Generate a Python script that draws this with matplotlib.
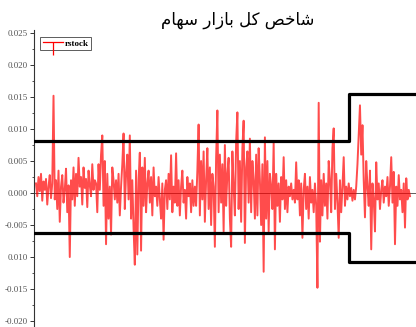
import numpy as np
import matplotlib.pyplot as plt
from matplotlib.lines import Line2D
from matplotlib.ticker import MultipleLocator

# daily returns of the index, in thousandths left to right
rstock_milli = [
    1.5, -0.5, 2.5, 0.3, 3.0, -1.2, 1.8, 0.5, 2.2, -1.8, 1.0, 2.8, -0.8, 1.5, 15.2, -1.0,
    2.0, -2.5, 3.5, -4.5, 1.0, 2.8, -1.5, 0.5, 3.8, -3.0, 1.2, -10.0, 2.0, -1.0, 4.0, -2.0,
    3.0, -0.5, 5.5, 1.0, 2.5, -1.8, 4.0, 0.8, 2.2, -2.2, 3.5, 1.2, -0.5, 4.5, 0.5, 2.0,
    1.5, -3.0, 4.5, 0.5, 6.0, 9.0, -2.0, 5.0, -8.0, 3.0, -4.0, 1.0, -6.5, 4.0, 2.0, -1.0,
    2.0, -1.5, 3.0, -3.5, 1.0, 4.5, 9.3, -2.5, 3.0, 6.0, -1.0, 9.0, -4.0, 2.0, -5.5, -11.2,
    3.5, -9.6, 2.0, 6.3, -9.0, 4.0, -2.0, 5.5, -3.0, 1.5, 3.5, -1.5, 2.5, -3.5, 4.0, -0.5,
    1.0, -2.0, 2.5, -1.0, -4.0, 1.5, -7.3, 0.5, 2.0, -2.5, 3.0, -1.0, 5.9, -3.0, 1.0, -1.5,
    6.2, -2.0, 2.0, -3.5, 1.0, 3.5, -1.5, 0.5, -4.0, 2.5, -0.5, 1.5, -3.0, 2.0, -2.0, 1.0,
    -2.0, 3.5, 10.7, -3.5, 5.0, -1.0, 6.5, -4.5, 2.0, 7.0, -2.5, 4.0, -5.0, 3.0, 1.0, -8.4,
    5.5, 12.9, -3.0, 6.0, -1.5, 4.5, -6.0, 7.5, -2.0, 3.0, 5.5, -4.0, -8.4, 6.5, 1.0, -3.5,
    8.0, 12.6, -2.5, 5.0, -4.5, 7.0, 11.3, -7.8, 4.0, 6.5, -1.5, 8.5, -3.0, 5.0, 2.0, -4.0,
    6.0, -3.5, 7.0, 2.0, -5.0, 4.5, -12.3, 8.7, -4.0, 5.0, -6.0, 3.0, 1.0, -2.5, 7.9, -8.8,
    3.0, -2.0, 1.5, -4.5, 2.5, -1.0, 5.6, -2.5, 2.0, -3.0, 1.0, -0.5, 1.5, -1.0, 0.5, -1.5,
    4.8, -1.0, 2.0, -3.5, 1.5, -7.0, 0.5, 3.0, -2.5, 1.0, -4.0, 2.5, -1.5, 0.5, -3.0, 1.5,
    -2.0, -14.8, 14.1, -7.6, 2.0, -3.5, 3.0, -2.0, 1.5, -4.0, 5.0, 2.0, -3.0, 7.0, 10.1, -2.5,
    3.0, -1.5, -7.0, 2.0, -3.0, 1.0, 5.6, -2.0, 1.0, -1.0, 1.5, -0.5, 0.8, -1.2, 0.5, -1.0,
    1.0, 4.5, 9.0, 13.7, 6.0, 10.6, 2.0, -3.8, 5.0, 1.0, -2.0, 3.5, -8.8, 1.5, -1.0, -6.0,
    4.8, -1.0, 1.5, -2.5, 0.5, 2.0, -1.5, 1.0, -0.5, 2.5, -2.0, 1.0, 5.6, -1.5, 3.3, -8.0,
    1.0, -2.0, 2.8, -1.0, 0.5, -3.0, 1.5, -5.4, 2.3, -1.0, 0.5, -0.5,
]

# regime thresholds (upper, lower) before and after the break
upper_levels = [0.0082, 0.0154]
lower_levels = [-0.0062, -0.0107]
break_index = 250

ytick_values = [0.025, 0.020, 0.015, 0.010, 0.005, 0.000, -0.005, -0.010, -0.015, -0.020]
ytick_labels = ['0.025', '0.020', '0.015', '0.010', '0.005', '0.000', '-0.005', '0.010', '-0.015', '-0.020']

# title, shaped by hand (presentation forms, visual order) since matplotlib does no bidi
title_forms = ['\ufeb7', '\ufe8e', '\ufea7', '\ufeba', ' ', '\ufb90', '\ufede', ' ',
               '\ufe91', '\ufe8e', '\ufeaf', '\ufe8d', '\ufead', ' ',
               '\ufeb3', '\ufeec', '\ufe8e', '\ufee1']
title = ''.join(reversed(title_forms))

y = np.array(rstock_milli) / 1000.0
x = np.arange(len(y))

fig = plt.figure(figsize=(4.16, 3.27), dpi=100)
ax = fig.add_axes([34 / 416, 0.0, 382 / 416, 297 / 327])

xmin, xmax = -1.6, len(y) - 1 + 4.8
ax.set_xlim(xmin, xmax)
ax.set_ylim(-0.02093, 0.02547)

ax.axhline(0, color='#444444', lw=0.6, zorder=1)
ax.plot(x, y, color='red', lw=1.4, alpha=0.7, zorder=2)

sx = [xmin, break_index, xmax]
ax.step(sx, [upper_levels[0], upper_levels[1], upper_levels[1]], where='post',
        color='black', lw=2.3, zorder=3)
ax.step(sx, [lower_levels[0], lower_levels[1], lower_levels[1]], where='post',
        color='black', lw=2.3, zorder=3)

for s in ['top', 'right', 'bottom']:
    ax.spines[s].set_visible(False)
ax.spines['left'].set_color('#333333')
ax.spines['left'].set_linewidth(0.8)
ax.set_xticks([])
ax.set_yticks(ytick_values)
ax.set_yticklabels(ytick_labels, family='Liberation Serif', fontsize=6.5, color='#555555')
ax.yaxis.set_minor_locator(MultipleLocator(0.0025))
ax.tick_params(axis='y', which='major', length=3, width=0.7, color='#333333', pad=1.5)
ax.tick_params(axis='y', which='minor', length=1.8, width=0.6, color='#333333')

handle = Line2D([], [], color='red', lw=0.9, marker=3, markersize=9, markeredgewidth=0.9)
leg = ax.legend([handle], ['rstock'], loc='upper left', bbox_to_anchor=(0.016, 0.978),
                prop={'family': 'Liberation Serif', 'weight': 'bold', 'size': 6.5},
                frameon=True, fancybox=False, edgecolor='#333333', borderpad=0.3,
                handlelength=2.2, handletextpad=0.2, borderaxespad=0, numpoints=1)
leg.get_frame().set_linewidth(0.7)

fig.text(238 / 416, 1 - 20 / 327, title, ha='center', va='center',
         family='DejaVu Sans', fontsize=12)

fig.savefig('out.png', dpi=100)
